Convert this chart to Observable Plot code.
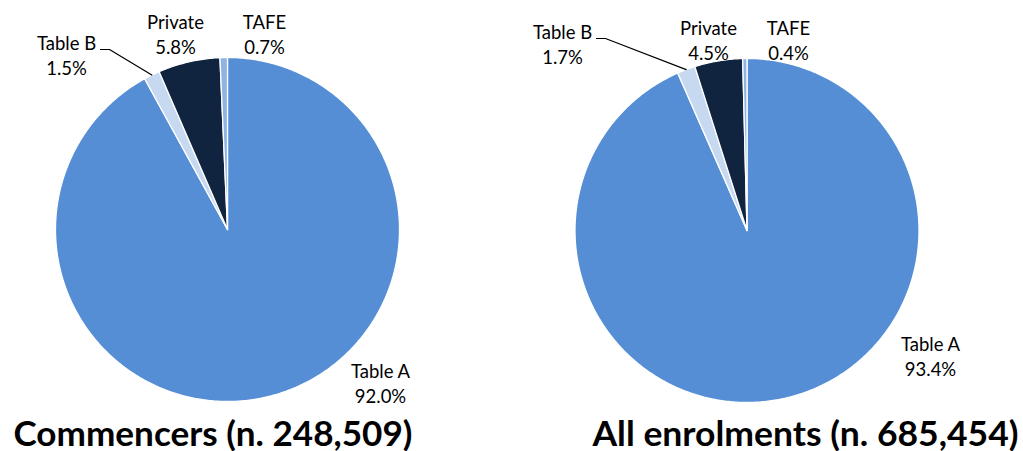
<!DOCTYPE html>
<html><head><meta charset="utf-8">
<script src="https://cdn.jsdelivr.net/npm/d3@7"></script>
<script src="https://cdn.jsdelivr.net/npm/@observablehq/plot@0.6"></script>
<style>html,body{margin:0;padding:0;background:#fff;}</style>
</head><body><div id="chart"></div>
<script>
// ---- data ----
const categories = ["Table A", "Table B", "Private", "TAFE"];
const commencersShare = [92.0, 1.5, 5.8, 0.7];
const allEnrolmentsShare = [93.4, 1.7, 4.5, 0.4];
const pieNames = ["Commencers", "All enrolments"];
const pieTotals = [248509, 685454];

// ---- layout & style ----
const W = 1023, H = 451, R = 172;
const palette = ["#558ED5", "#C6D9F1", "#10243F", "#8EB4E3"];
const titleY = 445;
const layout = [
  {cx: 227, cy: 229, titleX: 212.5, titleLen: 399,
   labels: {"Table A": [153, 173], "Table B": [-161, -155], "Private": [-52, -176], "TAFE": [37, -176]}},
  {cx: 746.5, cy: 230, titleX: 805, titleLen: 426,
   labels: {"Table A": [183.5, 145], "Table B": [-184.5, -167], "Private": [-38.5, -171], "TAFE": [41.5, -171]}}
];

const series = [commencersShare, allEnrolmentsShare];
const slices = [], labels = [], leaders = [], titles = [];
series.forEach((vals, p) => {
  const L = layout[p];
  const arcs = d3.pie().sort(null).value(d => d)(vals);
  arcs.forEach((a, i) => {
    const cat = categories[i];
    const key = pieNames[p] + "|" + cat;
    const n = Math.max(2, Math.ceil((a.endAngle - a.startAngle) / 0.01));
    slices.push({key, category: cat, x: L.cx, y: L.cy});
    for (let k = 0; k <= n; k++) {
      const t = a.startAngle + (a.endAngle - a.startAngle) * k / n;
      slices.push({key, category: cat, x: L.cx + R * Math.sin(t), y: L.cy - R * Math.cos(t)});
    }
    slices.push({key, category: cat, x: L.cx, y: L.cy});
    const [dx, dy] = L.labels[cat];
    labels.push({x: L.cx + dx, y: L.cy + dy, text: `${cat}\n${vals[i].toFixed(1)}%`});
    if (cat === "Table B") {
      const mid = (a.startAngle + a.endAngle) / 2;
      const lx = L.cx + dx + 34, ly = L.cy + dy - 25;
      leaders.push({key, x: lx, y: ly}, {key, x: lx + 9, y: ly},
                   {key, x: L.cx + R * Math.sin(mid), y: L.cy - R * Math.cos(mid)});
    }
  });
  titles.push({x: L.titleX, y: titleY, len: L.titleLen,
               text: `${pieNames[p]} (n. ${d3.format(",")(pieTotals[p])})`});
});

const chart = Plot.plot({
  width: W, height: H, margin: 0,
  style: {fontFamily: "Lato, 'Open Sans', sans-serif", background: "#fff"},
  x: {domain: [0, W], range: [0, W], axis: null},
  y: {domain: [0, H], range: [0, H], axis: null},
  color: {domain: categories, range: palette},
  marks: [
    Plot.line(slices, {x: "x", y: "y", z: "key", fill: "category", stroke: "white", strokeWidth: 1.3, curve: "linear"}),
    Plot.line(leaders, {x: "x", y: "y", z: "key", stroke: "#000", strokeWidth: 1.2}),
    Plot.text(labels, {x: "x", y: "y", text: "text", fontSize: 18.5, fill: "#000", lineAnchor: "bottom", lineHeight: 1.3}),
    Plot.text(titles, {x: "x", y: "y", text: "text", fontSize: 35, fontWeight: "bold", fill: "#000", lineAnchor: "bottom"})
  ]
});
document.getElementById("chart").appendChild(chart);
// fit title widths
chart.querySelectorAll("text").forEach(el => {
  const t = titles.find(d => d.text === el.textContent);
  if (t) { el.setAttribute("textLength", t.len); el.setAttribute("lengthAdjust", "spacingAndGlyphs"); }
});
</script>
</body></html>
